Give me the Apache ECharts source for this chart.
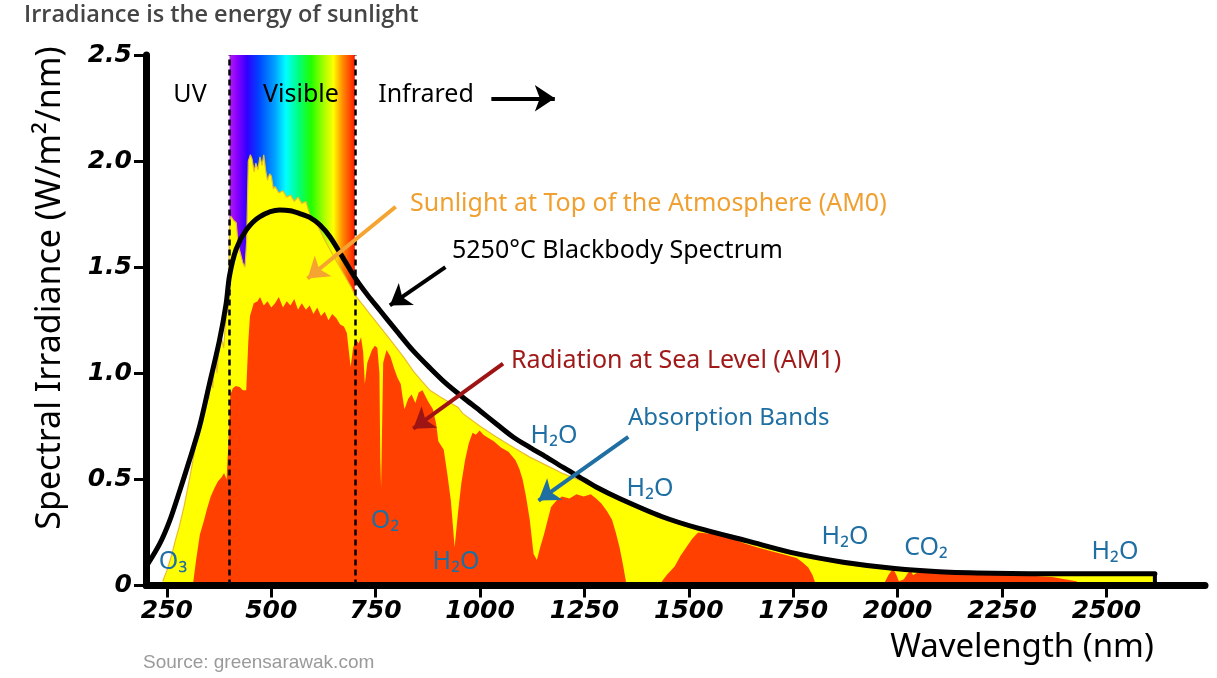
<!DOCTYPE html>
<html>
<head>
<meta charset="utf-8">
<script src="https://cdn.jsdelivr.net/npm/echarts@6/dist/echarts.min.js"></script>
<style>
html,body{margin:0;padding:0;background:#ffffff;}
#chart{width:1217px;height:678px;}
</style>
</head>
<body>
<div id="chart"></div>
<script>
// ---------- data ----------
const xTicks = [250, 500, 750, 1000, 1250, 1500, 1750, 2000, 2250, 2500];
const yTicks = [0, 0.5, 1.0, 1.5, 2.0, 2.5];
const visibleBand = [400, 700];

// 5250 °C blackbody spectrum (nm, W/m²/nm)
const bbNm  = [204, 233, 257, 281, 304, 328, 352, 376, 392, 400, 416, 440, 472, 520, 545, 568, 592, 616, 640, 670, 704, 730, 760, 800, 839, 880, 919, 960, 999, 1040, 1079, 1120, 1159, 1200, 1238, 1278, 1334, 1435, 1522, 1640, 1758, 1870, 1993, 2100, 2229, 2400, 2616];
const bbVal = [0.10, 0.197, 0.307, 0.448, 0.59, 0.747, 0.951, 1.156, 1.33, 1.46, 1.585, 1.675, 1.737, 1.769, 1.766, 1.753, 1.735, 1.70, 1.645, 1.55, 1.44, 1.37, 1.297, 1.20, 1.108, 1.025, 0.951, 0.885, 0.825, 0.76, 0.70, 0.65, 0.605, 0.555, 0.511, 0.464, 0.41, 0.325, 0.27, 0.21, 0.15, 0.11, 0.08, 0.065, 0.058, 0.055, 0.055];

// Sunlight at top of the atmosphere (AM0)
const am0Nm  = [240, 250, 261, 270, 280, 292, 304, 320, 332, 344, 350, 356, 360, 366, 370, 375, 380, 386, 392, 397, 400, 403, 410, 416, 420, 424, 432, 437, 441, 445, 450, 454, 459, 463, 468, 473, 478, 482, 487, 491, 496, 500, 505, 509, 518, 528, 537, 546, 555, 564, 573, 583, 592, 610, 630, 650, 670, 690, 700, 720, 740, 760, 780, 800, 819, 840, 862, 880, 904, 925, 947, 959, 1000, 1039, 1080, 1119, 1160, 1199, 1240, 1278, 1334, 1435, 1522, 1640, 1758, 1870, 1993, 2100, 2229, 2400, 2616, 2616];
const am0Val = [0.02, 0.07, 0.14, 0.21, 0.28, 0.38, 0.50, 0.67, 0.78, 0.92, 0.88, 1.00, 0.93, 1.10, 1.00, 1.14, 1.17, 1.12, 1.28, 1.30, 1.68, 1.74, 1.72, 1.71, 1.62, 1.58, 1.52, 1.50, 1.62, 2.00, 2.03, 2.01, 1.95, 1.99, 1.96, 2.02, 1.98, 2.03, 1.95, 1.91, 1.94, 1.93, 1.87, 1.88, 1.85, 1.86, 1.83, 1.84, 1.81, 1.83, 1.80, 1.81, 1.75, 1.70, 1.62, 1.55, 1.48, 1.41, 1.37, 1.32, 1.27, 1.22, 1.17, 1.12, 1.07, 1.01, 0.96, 0.92, 0.89, 0.865, 0.84, 0.81, 0.75, 0.70, 0.65, 0.605, 0.565, 0.527, 0.495, 0.46, 0.40, 0.315, 0.26, 0.20, 0.14, 0.10, 0.072, 0.06, 0.055, 0.052, 0.05, 0];

// Radiation at sea level (AM1)
const am1Nm  = [312, 320, 329, 338, 346, 355, 364, 372, 381, 387, 393, 398, 402, 408, 415, 424, 432, 440, 445, 449, 458, 467, 473, 482, 491, 500, 509, 518, 528, 537, 546, 555, 564, 573, 583, 592, 601, 610, 619, 628, 637, 646, 656, 665, 674, 681, 686, 690, 696, 703, 709, 715, 720, 724, 730, 741, 748, 754, 759, 761, 763, 765, 768, 776, 785, 793, 802, 810, 815, 819, 828, 836, 845, 853, 862, 875, 887, 895, 900, 913, 922, 930, 935, 939, 943, 947, 955, 964, 973, 982, 990, 999, 1008, 1016, 1033, 1050, 1068, 1085, 1094, 1102, 1110, 1119, 1124, 1128, 1136, 1144, 1153, 1162, 1170, 1183, 1196, 1214, 1231, 1248, 1265, 1278, 1291, 1304, 1316, 1325, 1334, 1342, 1351, 1428, 1447, 1466, 1480, 1494, 1508, 1522, 1545, 1569, 1600, 1630, 1663, 1700, 1730, 1758, 1772, 1786, 1796, 1805, 1965, 1978, 1989, 1997, 2003, 2015, 2025, 2031, 2037, 2047, 2059, 2100, 2200, 2300, 2370, 2428, 2440];
const am1Val = [0, 0.12, 0.24, 0.30, 0.36, 0.42, 0.46, 0.49, 0.51, 0.53, 0.50, 0.70, 0.90, 0.93, 0.94, 0.935, 0.92, 0.92, 1.15, 1.27, 1.33, 1.34, 1.36, 1.32, 1.34, 1.31, 1.33, 1.36, 1.31, 1.34, 1.32, 1.35, 1.30, 1.33, 1.30, 1.32, 1.28, 1.31, 1.27, 1.29, 1.25, 1.28, 1.26, 1.23, 1.22, 1.19, 1.10, 1.03, 1.12, 1.16, 1.14, 1.17, 1.10, 0.95, 1.05, 1.11, 1.13, 1.12, 1.00, 0.60, 0.46, 0.70, 1.05, 1.11, 1.08, 1.03, 0.98, 0.95, 0.88, 0.83, 0.88, 0.90, 0.86, 0.91, 0.92, 0.87, 0.83, 0.76, 0.68, 0.64, 0.52, 0.40, 0.28, 0.18, 0.26, 0.34, 0.48, 0.59, 0.67, 0.72, 0.71, 0.73, 0.71, 0.70, 0.68, 0.65, 0.63, 0.59, 0.55, 0.50, 0.42, 0.31, 0.22, 0.15, 0.12, 0.18, 0.24, 0.31, 0.37, 0.40, 0.42, 0.41, 0.43, 0.42, 0.43, 0.41, 0.385, 0.35, 0.31, 0.25, 0.18, 0.10, 0, 0, 0.05, 0.09, 0.14, 0.18, 0.22, 0.25, 0.245, 0.24, 0.225, 0.20, 0.18, 0.16, 0.145, 0.13, 0.11, 0.085, 0.05, 0, 0, 0.05, 0.08, 0.05, 0.02, 0.03, 0.06, 0.07, 0.05, 0.06, 0.063, 0.058, 0.052, 0.048, 0.04, 0.02, 0];

// ---------- chart ----------
const zip = (a, b) => a.map((v, i) => [v, b[i]]);
const F = '"Noto Sans", "DejaVu Sans", sans-serif';
const TICKFONT = '"DejaVu Sans", sans-serif';
const BLUE = '#1f6fa3';

const rainbow = new echarts.graphic.LinearGradient(0, 0, 1, 0, [
  {offset: 0.00, color: '#b01ef0'},
  {offset: 0.06, color: '#8a00ff'},
  {offset: 0.14, color: '#3000ff'},
  {offset: 0.23, color: '#0040ff'},
  {offset: 0.36, color: '#00a0ff'},
  {offset: 0.45, color: '#00ffff'},
  {offset: 0.55, color: '#00ff80'},
  {offset: 0.65, color: '#20ff00'},
  {offset: 0.76, color: '#b0ff00'},
  {offset: 0.83, color: '#ffff00'},
  {offset: 0.90, color: '#ff9000'},
  {offset: 1.00, color: '#ff1a00'}
]);

function arrow(from, to, color, size) {
  return [
    {coord: from, symbol: 'none', lineStyle: {color: color, width: 4, type: 'solid'}},
    {coord: to, symbol: 'arrow', symbolSize: size}
  ];
}

const bbLast = [bbNm[bbNm.length - 1], bbVal[bbVal.length - 1]];

const chart = echarts.init(document.getElementById('chart'));
const text = (t, x, y, size, color, align, extra) => Object.assign({
  type: 'text', x: x, y: y, z: 100,
  style: {text: t, font: 'normal ' + size + 'px ' + F, fill: color,
          textAlign: align || 'left', textVerticalAlign: 'middle'}
}, extra || {});

chart.setOption({
  animation: false,
  grid: {left: 146, right: 12, top: 55, bottom: 92.5, containLabel: false},
  xAxis: {
    type: 'value', min: 200, max: 2736, z: 10,
    axisLine: {show: true, onZero: false, lineStyle: {color: '#000', width: 7, cap: 'round'}},
    axisTick: {show: true, length: 12, customValues: xTicks, lineStyle: {color: '#000', width: 3}},
    axisLabel: {show: true, customValues: xTicks, margin: 13, color: '#000',
      fontFamily: TICKFONT, fontStyle: 'italic', fontWeight: 'bold', fontSize: 25,
      formatter: v => String(v)},
    splitLine: {show: false}
  },
  yAxis: {
    type: 'value', min: yTicks[0], max: yTicks[yTicks.length - 1], interval: 0.5, z: 10,
    axisLine: {show: true, onZero: false, lineStyle: {color: '#000', width: 7}},
    axisTick: {show: true, length: 12, lineStyle: {color: '#000', width: 3}},
    axisLabel: {show: true, margin: 14, color: '#000',
      fontFamily: TICKFONT, fontStyle: 'italic', fontWeight: 'bold', fontSize: 25,
      formatter: v => v === 0 ? '0' : v.toFixed(1)},
    splitLine: {show: false}
  },
  series: [
    {
      name: 'visible band', type: 'line', z: 1, data: [[visibleBand[0], 0]],
      symbol: 'none', showSymbol: false, lineStyle: {opacity: 0}, silent: true,
      markArea: {silent: true, itemStyle: {color: rainbow},
        data: [[{xAxis: visibleBand[0], yAxis: 0}, {xAxis: visibleBand[1], yAxis: 2.5}]]}
    },
    {
      name: 'AM0', type: 'line', z: 2, data: zip(am0Nm, am0Val),
      symbol: 'none', showSymbol: false, silent: true,
      lineStyle: {color: '#e8bd2a', width: 1.2},
      areaStyle: {color: '#ffff00', opacity: 1}
    },
    {
      name: 'AM1', type: 'line', z: 3, data: zip(am1Nm, am1Val),
      symbol: 'none', showSymbol: false, silent: true,
      lineStyle: {width: 0, color: '#ff4000'},
      areaStyle: {color: '#ff4000', opacity: 1}
    },
    {
      name: 'Blackbody', type: 'line', z: 4, data: zip(bbNm, bbVal), smooth: 0.3,
      symbol: 'none', showSymbol: false, silent: true,
      lineStyle: {color: '#000', width: 5, cap: 'round', join: 'round'}
    },
    {
      name: 'Blackbody end', type: 'line', z: 4, data: [bbLast, [bbLast[0], 0]],
      symbol: 'none', showSymbol: false, silent: true,
      lineStyle: {color: '#000', width: 4}
    },
    {
      name: 'annotations', type: 'line', z: 5, data: [[visibleBand[0], 0]],
      symbol: 'none', showSymbol: false, lineStyle: {opacity: 0}, silent: true,
      markLine: {
        silent: true, animation: false, label: {show: false}, symbol: 'none',
        data: [
          [{coord: [visibleBand[0], 0], symbol: 'none', lineStyle: {color: '#000', width: 2.5, type: [6, 4]}},
           {coord: [visibleBand[0], 2.5], symbol: 'none'}],
          [{coord: [visibleBand[1], 0], symbol: 'none', lineStyle: {color: '#000', width: 2.5, type: [6, 4]}},
           {coord: [visibleBand[1], 2.5], symbol: 'none'}],
          arrow([1027, 2.296], [1179, 2.296], '#000', 20),
          arrow([798, 1.785], [587, 1.447], '#f5a431', 20),
          arrow([917, 1.50], [784, 1.32], '#000', 20),
          arrow([1055, 1.046], [840, 0.739], '#9e1414', 20),
          arrow([1355, 0.70], [1140, 0.40], '#1f6fa3', 20)
        ]
      }
    }
  ],
  graphic: [
    text('Irradiance is the energy of sunlight', 24, 15, 23, '#454545', 'left',
      {style: {text: 'Irradiance is the energy of sunlight', font: '600 23.5px "Open Sans", sans-serif', fill: '#454545', textAlign: 'left', textVerticalAlign: 'middle'}}),
    text('Spectral Irradiance (W/m²/nm)', 50, 288, 34, '#000', 'center', {rotation: Math.PI / 2}),
    text('Wavelength (nm)', 1022, 648, 33, '#000', 'center'),
    text('Source: greensarawak.com', 143, 663, 19, '#9a9a9a', 'left',
      {style: {text: 'Source: greensarawak.com', font: '19px "Liberation Sans", Arial, sans-serif', fill: '#9a9a9a', textAlign: 'left', textVerticalAlign: 'middle'}}),
    text('UV', 190, 95, 25, '#000', 'center'),
    text('Visible', 301, 95, 25, '#000', 'center'),
    text('Infrared', 426, 95, 25, '#000', 'center'),
    text('Sunlight at Top of the Atmosphere (AM0)', 410, 204, 25, '#f0a030', 'left'),
    text('5250°C Blackbody Spectrum', 452, 251, 25, '#000', 'left'),
    text('Radiation at Sea Level (AM1)', 511, 361, 25, '#a01a1a', 'left'),
    text('Absorption Bands', 628, 418, 24, BLUE, 'left'),
    text('H₂O', 554, 436, 25, BLUE, 'center'),
    text('H₂O', 650, 489, 25, BLUE, 'center'),
    text('H₂O', 845, 537, 25, BLUE, 'center'),
    text('H₂O', 1115, 552, 25, BLUE, 'center'),
    text('H₂O', 456, 562, 25, BLUE, 'center'),
    text('O₂', 385, 521, 25, BLUE, 'center'),
    text('O₃', 173, 562, 25, BLUE, 'center'),
    text('CO₂', 926, 548, 25, BLUE, 'center')
  ]
});
</script>
</body>
</html>
